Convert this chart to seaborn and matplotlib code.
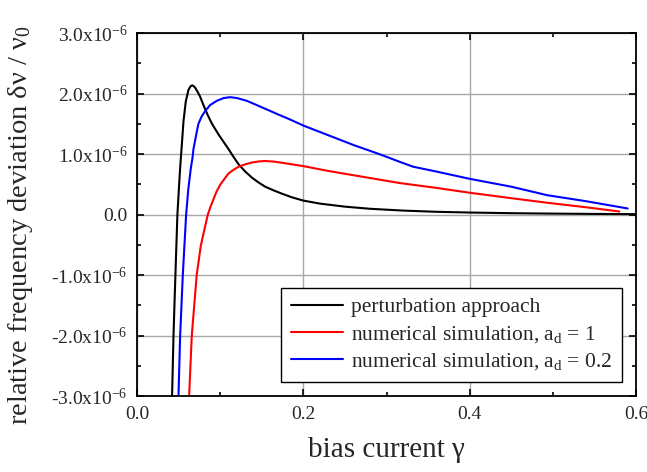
import numpy as np
import pandas as pd
import matplotlib
matplotlib.use("Agg")
import matplotlib.pyplot as plt
from matplotlib.ticker import MultipleLocator, FixedLocator, FixedFormatter
import seaborn as sns

#%% data (y in units of 1e-6)
pert_x = [0.042, 0.0437, 0.046, 0.0484, 0.0505, 0.0517, 0.0537, 0.0557, 0.0585, 0.0617,
          0.0645, 0.0665, 0.069, 0.0718, 0.0757, 0.08, 0.085, 0.09, 0.098, 0.105,
          0.11, 0.116, 0.122, 0.13, 0.138, 0.146, 0.154, 0.164, 0.174, 0.186,
          0.2, 0.22, 0.25, 0.28, 0.32, 0.36, 0.4, 0.45, 0.5, 0.55, 0.6]
pert_y = [-3.0, -2.0, -1.0, 0.0, 0.5, 0.77, 1.15, 1.54, 1.87, 2.06,
          2.125, 2.135, 2.11, 2.05, 1.95, 1.80, 1.64, 1.50, 1.32, 1.18,
          1.08, 0.95, 0.83, 0.71, 0.61, 0.53, 0.46, 0.40, 0.345, 0.285,
          0.23, 0.18, 0.13, 0.095, 0.065, 0.045, 0.033, 0.022, 0.015, 0.01, 0.006]

sim1_x = [0.0625, 0.0657, 0.0716, 0.0765, 0.081, 0.085, 0.088, 0.0917, 0.0955, 0.0998,
          0.105, 0.11, 0.116, 0.122, 0.13, 0.138, 0.146, 0.154, 0.164, 0.174,
          0.186, 0.2, 0.23, 0.26, 0.316, 0.36, 0.4, 0.45, 0.493, 0.54, 0.58]
sim1_y = [-3.0, -2.0, -1.0, -0.52, -0.24, 0.0, 0.12, 0.25, 0.38, 0.49,
          0.59, 0.68, 0.74, 0.79, 0.83, 0.86, 0.877, 0.885, 0.875, 0.856,
          0.83, 0.80, 0.72, 0.65, 0.52, 0.44, 0.36, 0.27, 0.195, 0.12, 0.05]

sim02_x = [0.0497, 0.0517, 0.0549, 0.0589, 0.0615, 0.0646, 0.0665, 0.0677, 0.0718, 0.0737,
           0.0775, 0.0818, 0.0878, 0.0958, 0.104, 0.1118, 0.12, 0.1318, 0.142, 0.152,
           0.162, 0.172, 0.184, 0.2, 0.23, 0.26, 0.292, 0.316, 0.332, 0.36,
           0.4, 0.45, 0.493, 0.54, 0.59]
sim02_y = [-3.0, -2.0, -1.0, 0.0, 0.42, 0.77, 0.93, 1.08, 1.375, 1.50,
           1.62, 1.71, 1.81, 1.88, 1.925, 1.94, 1.925, 1.88, 1.82, 1.76,
           1.70, 1.64, 1.57, 1.47, 1.31, 1.15, 0.995, 0.87, 0.79, 0.71,
           0.59, 0.46, 0.32, 0.22, 0.10]

series_names = ["perturbation approach",
                r"numerical simulation, a$_\mathregular{d}$ = 1",
                r"numerical simulation, a$_\mathregular{d}$ = 0.2"]
series_colors = ["black", "#ff0000", "#0000ff"]

ytick_vals = [-3, -2, -1, 0, 1, 2, 3]
ytick_labels = [r"-3.0x10$^{\mathregular{-6}}$", r"-2.0x10$^{\mathregular{-6}}$",
                r"-1.0x10$^{\mathregular{-6}}$", "0.0",
                r"1.0x10$^{\mathregular{-6}}$", r"2.0x10$^{\mathregular{-6}}$",
                r"3.0x10$^{\mathregular{-6}}$"]
xtick_vals = [0.0, 0.2, 0.4, 0.6]
xtick_labels = ["0.0", "0.2", "0.4", "0.6"]

scale = 1e-6

#%% build long table
df = pd.concat([
    pd.DataFrame({"x": pert_x, "y": np.array(pert_y) * scale, "series": series_names[0]}),
    pd.DataFrame({"x": sim1_x, "y": np.array(sim1_y) * scale, "series": series_names[1]}),
    pd.DataFrame({"x": sim02_x, "y": np.array(sim02_y) * scale, "series": series_names[2]}),
], ignore_index=True)

#%% style
sns.set_style("ticks")
plt.rcParams["font.family"] = ["Liberation Serif", "DejaVu Serif"]
plt.rcParams["mathtext.fontset"] = "custom"
plt.rcParams["mathtext.rm"] = "Liberation Serif"
plt.rcParams["mathtext.it"] = "Liberation Serif:italic"
plt.rcParams["axes.unicode_minus"] = False

fig, ax = plt.subplots(figsize=(6.47, 4.72), dpi=100)
fig.subplots_adjust(left=0.212, right=0.983, top=0.930, bottom=0.161)

sns.lineplot(data=df, x="x", y="y", hue="series", hue_order=series_names,
             palette=dict(zip(series_names, series_colors)), estimator=None,
             sort=False, linewidth=1.5, ax=ax)

ax.set_xlim(0, 0.6)
ax.set_ylim(-3 * scale, 3 * scale)

ax.xaxis.set_major_locator(FixedLocator(xtick_vals))
ax.xaxis.set_major_formatter(FixedFormatter(xtick_labels))
ax.xaxis.set_minor_locator(MultipleLocator(0.1))
ax.yaxis.set_major_locator(FixedLocator([v * scale for v in ytick_vals]))
ax.yaxis.set_major_formatter(FixedFormatter(ytick_labels))
ax.yaxis.set_minor_locator(MultipleLocator(0.5 * scale))

ax.grid(True, which="major", color="#a8a8a8", linewidth=1.0)
ax.tick_params(which="both", direction="in", top=True, right=True, width=1.2,
               labelsize=14, color="black")
ax.tick_params(which="major", length=5, pad=7)
ax.tick_params(which="minor", length=3)
for s in ax.spines.values():
    s.set_linewidth(1.3)
    s.set_color("black")

ax.set_xlabel(r"bias current γ", fontsize=21, labelpad=10)
ax.set_ylabel(r"relative frequency deviation δν / ν$_\mathregular{0}$", fontsize=20.5)
ax.yaxis.set_label_coords(-0.205, 0.47)

leg = ax.legend(loc="lower right", bbox_to_anchor=(0.9725, 0.039), borderaxespad=0,
                fontsize=15.5, frameon=True, fancybox=False, edgecolor="black",
                framealpha=1, handlelength=2.4, handletextpad=0.4, labelspacing=0.3,
                borderpad=0.45, title=None)
leg.get_frame().set_linewidth(1.0)

fig.savefig("out.png", dpi=100)
